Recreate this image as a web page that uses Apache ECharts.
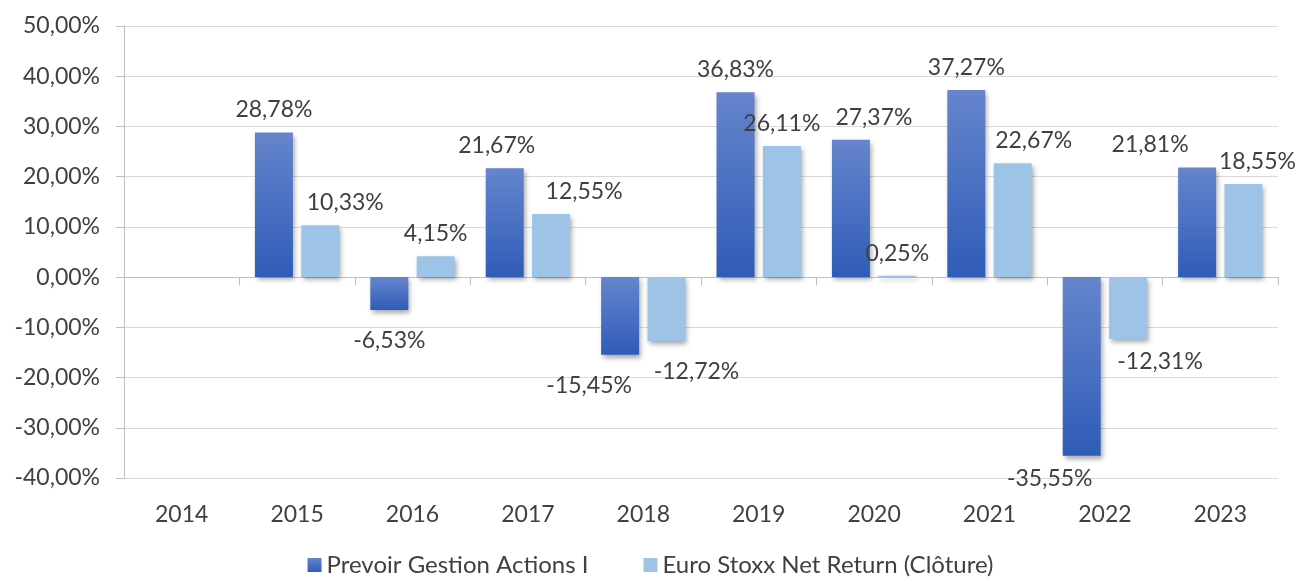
<!DOCTYPE html>
<html>
<head>
<meta charset="utf-8">
<script src="https://cdn.jsdelivr.net/npm/echarts@6/dist/echarts.min.js"></script>
<style>
html, body { margin: 0; padding: 0; background: #fff; }
#main { width: 1301px; height: 583px; }
</style>
</head>
<body>
<div id="main"></div>
<script>
// Données
var years = ['2014', '2015', '2016', '2017', '2018', '2019', '2020', '2021', '2022', '2023'];
var fundName = 'Prevoir Gestion Actions I';
var indexName = 'Euro Stoxx Net Return (Clôture)';
var fundValues = [null, 28.78, -6.53, 21.67, -15.45, 36.83, 27.37, 37.27, -35.55, 21.81];
var indexValues = [null, 10.33, 4.15, 12.55, -12.72, 26.11, 0.25, 22.67, -12.31, 18.55];
var yTicks = [-40, -30, -20, -10, 0, 10, 20, 30, 40, 50];

(function(){
	var myChart = echarts.init(document.getElementById('main'));

	function fmt(v) {
		return v.toFixed(2).replace('.', ',') + '%';
	}

	// petits décalages des étiquettes (comme déplacées à la main dans Excel)
	var fundShift = [[0, 0], [0, 0], [0, 8], [-8, 0], [-31, 8], [0, 0], [23, 0], [0, 0], [-32, 0], [-47, 0]];
	var indexShift = [[0, 0], [25, 0], [0, 0], [33, 0], [30, 8], [0, 0], [0, 0], [21, 0], [32, 0], [14, 0]];

	function build(values, shift) {
		return values.map(function (v, i) {
			if (v === null) return '-';
			return {
				value: v,
				label: {
					position: v >= 0 ? 'top' : 'bottom',
					offset: shift[i]
				}
			};
		});
	}

	var shadow = {
		shadowColor: 'rgba(0,0,0,0.35)',
		shadowBlur: 5,
		shadowOffsetX: 2,
		shadowOffsetY: 3
	};

	var labelStyle = {
		show: true,
		distance: 11,
		color: '#404040',
		fontFamily: 'Lato',
		fontSize: 23,
		formatter: function (p) { return fmt(p.value); }
	};

	option = {
		animation: false,
		textStyle: { fontFamily: 'Lato' },
		grid: {
			left: 124,
			right: 23,
			top: 26,
			bottom: 105
		},
		legend: {
			data: [fundName, indexName],
			bottom: 1,
			left: 'center',
			icon: 'rect',
			itemWidth: 14,
			itemHeight: 14,
			itemGap: 55,
			textStyle: { color: '#404040', fontSize: 24, fontFamily: 'Lato' }
		},
		xAxis: [
			{
				type: 'category',
				data: years,
				axisLine: { onZero: true, lineStyle: { color: '#bfbfbf', width: 1 } },
				axisTick: { show: true, length: 8, lineStyle: { color: '#bfbfbf' } },
				axisLabel: { show: false }
			},
			{
				type: 'category',
				data: years,
				position: 'bottom',
				axisLine: { show: false },
				axisTick: { show: false },
				axisLabel: { margin: 25, color: '#404040', fontSize: 23, fontFamily: 'Lato' }
			}
		],
		yAxis: {
			type: 'value',
			min: yTicks[0],
			max: yTicks[yTicks.length - 1],
			interval: 10,
			axisLine: { show: true, lineStyle: { color: '#bfbfbf' } },
			axisTick: { show: true, length: 8, lineStyle: { color: '#bfbfbf' } },
			axisLabel: {
				margin: 24,
				color: '#404040',
				fontSize: 23,
				fontFamily: 'Lato',
				formatter: fmt
			},
			splitLine: { lineStyle: { color: '#d9d9d9' } }
		},
		series: [
			{
				name: fundName,
				type: 'bar',
				xAxisIndex: 0,
				barWidth: 38,
				barGap: '22%',
				itemStyle: Object.assign({
					color: new echarts.graphic.LinearGradient(0, 0, 0, 1, [
						{ offset: 0, color: '#6585cc' },
						{ offset: 1, color: '#2f5cb8' }
					])
				}, shadow),
				label: labelStyle,
				data: build(fundValues, fundShift)
			},
			{
				name: indexName,
				type: 'bar',
				xAxisIndex: 0,
				barWidth: 38,
				itemStyle: Object.assign({ color: '#9dc3e6' }, shadow),
				label: labelStyle,
				data: build(indexValues, indexShift)
			}
		]
	};
	myChart.setOption(option);
})();
</script>
</body>
</html>
